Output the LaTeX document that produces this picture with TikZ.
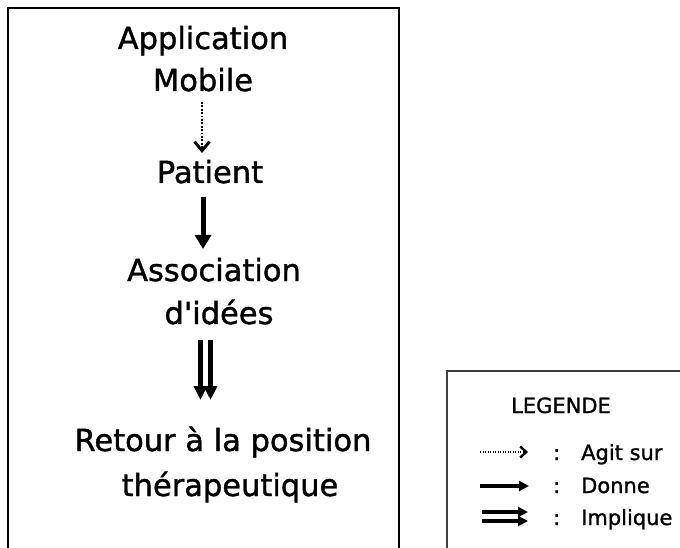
\documentclass[tikz,border=0pt]{standalone}
\usepackage{fontspec}
\setmainfont{DejaVu Sans}[Ligatures=TeXOff]
\newfontfamily\heavyfont{DejaVu Sans}[Ligatures=TeXOff,FakeBold=1.2]
\usetikzlibrary{arrows.meta}
\begin{document}
\begin{tikzpicture}[x=1pt,y=-1pt,
  big/.style={font=\heavyfont\fontsize{30.5}{36}\selectfont, inner sep=0pt, anchor=base},
  small/.style={font=\heavyfont\fontsize{21}{25}\selectfont, inner sep=0pt, anchor=base west},
  agit/.style={line width=2.8pt, dash pattern=on 1.8pt off 1.6pt, -{Straight Barb[length=9pt,width=15pt,line width=3pt]}},
  donne/.style={line width=5pt, -{Triangle[length=14pt,width=16pt]}},
  implique/.style={line width=5pt, -{Triangle[length=14pt,width=13pt]}},
  lagit/.style={line width=2pt, dash pattern=on 1.3pt off 1.2pt, -{Straight Barb[length=6pt,width=11pt,line width=2.4pt]}},
  ldonne/.style={line width=3.4pt, -{Triangle[length=10pt,width=10pt]}},
  frameline/.style={line width=2pt}]
\useasboundingbox (0,0) rectangle (680,548);
\draw[frameline] (8,548) -- (8,8) -- (399,8) -- (399,548);
\draw[line width=1.2pt, black!75] (447,548) -- (447,371) -- (680,371);

\node[big] (app) at (203,49) {Application};
\node[big] (mob) at (203,91) {Mobile};
\node[big] (pat) at (210,183) {Patient};
\node[big] (ass) at (214,281) {Association};
\node[big] (idee) at (219,324) {d'idées};
\node[big] (ret) at (223,451) {Retour à la position};
\node[big] (ther) at (230,496) {thérapeutique};

\coordinate (a1) at (202,102);
\coordinate (a2) at (202,153);
\draw[agit] (a1) -- (a2);
\coordinate (b1) at (203,197);
\coordinate (b2) at (203,249);
\draw[donne] (b1) -- (b2);
\coordinate (c1) at (200.5,340);
\coordinate (c2) at (200.5,400);
\coordinate (d1) at (210.5,340);
\coordinate (d2) at (210.5,400);
\draw[implique] (c1) -- (c2);
\draw[implique] (d1) -- (d2);

\node[small, anchor=base] (leg) at (561,413) {LEGENDE};
\coordinate (l1a) at (480,452);
\coordinate (l1b) at (528,452);
\draw[lagit] (l1a) -- (l1b);
\coordinate (l2a) at (480,486);
\coordinate (l2b) at (529,486);
\draw[ldonne] (l2a) -- (l2b);
\coordinate (l3a) at (482,512);
\coordinate (l3b) at (528,512);
\coordinate (l4a) at (482,521);
\coordinate (l4b) at (528,521);
\draw[ldonne] (l3a) -- (l3b);
\draw[ldonne] (l4a) -- (l4b);
\node[small] (c1t) at (553,460) {:};
\node[small] (agt) at (581,460) {Agit sur};
\node[small] (c2t) at (553,493) {:};
\node[small] (dnt) at (581,493) {Donne};
\node[small] (c3t) at (553,525) {:};
\node[small] (imt) at (581,525) {Implique};
\end{tikzpicture}
\end{document}
